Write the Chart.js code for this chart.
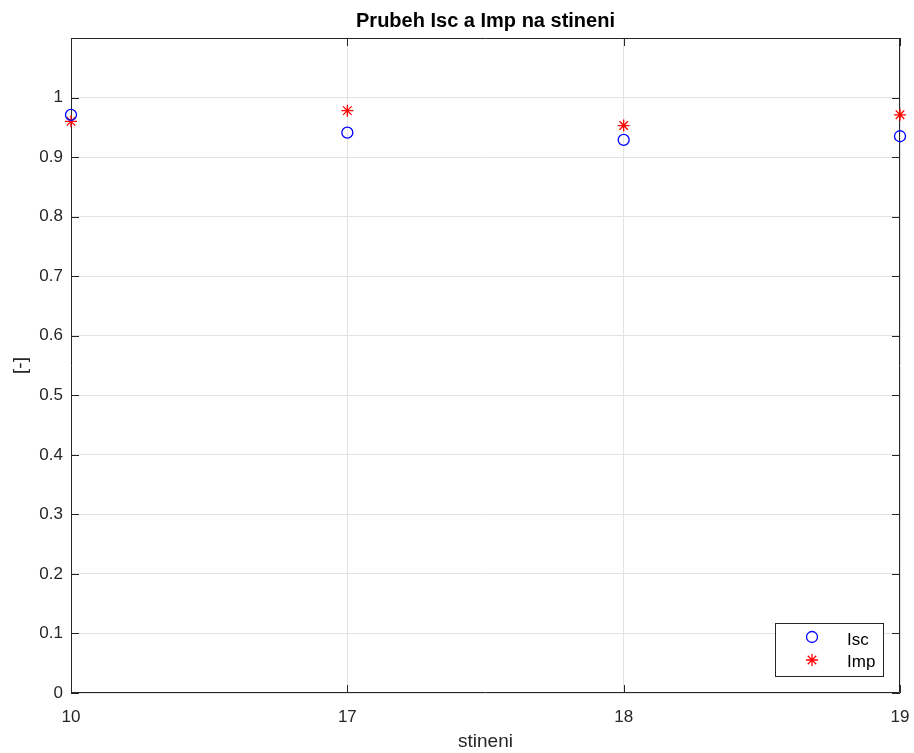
<!DOCTYPE html>
<html>
<head>
<meta charset="utf-8">
<script src="https://cdn.jsdelivr.net/npm/chart.js@4.4.0/dist/chart.umd.min.js"></script>
<style>
  body { margin: 0; background: #fff; }
  canvas { display: block; }
</style>
</head>
<body>
<canvas id="chart" width="914" height="753"></canvas>
<script>
// data
const stineni = ["10", "17", "18", "19"];
const isc = [0.971, 0.941, 0.929, 0.935];
const imp = [0.960, 0.978, 0.953, 0.971];
const seriesNames = ["Isc", "Imp"];

const axisColor = "#262626";
const gridColor = "#e3e3e3";
const fontFamily = "'Liberation Sans', Arial, Helvetica, sans-serif";

// box round the axes, inward tick marks, legend
const matlabBox = {
  id: "matlabBox",
  beforeDatasetsDraw(chart) {
    const { ctx, chartArea: a, scales: { x, y } } = chart;
    ctx.save();
    ctx.strokeStyle = axisColor;
    ctx.lineWidth = 1;
    ctx.beginPath();
    ctx.rect(a.left + 0.5, a.top + 0.5, a.right - a.left - 1, a.bottom - a.top - 1);
    y.ticks.forEach(t => {
      const py = Math.round(y.getPixelForValue(t.value)) + 0.5;
      ctx.moveTo(a.left, py); ctx.lineTo(a.left + 8, py);
      ctx.moveTo(a.right, py); ctx.lineTo(a.right - 8, py);
    });
    x.ticks.forEach(t => {
      const px = Math.round(x.getPixelForValue(t.value)) + 0.5;
      ctx.moveTo(px, a.bottom); ctx.lineTo(px, a.bottom - 8);
      ctx.moveTo(px, a.top); ctx.lineTo(px, a.top + 8);
    });
    ctx.stroke();
    ctx.restore();
  },
  afterDraw(chart) {
    const { ctx } = chart;
    ctx.save();
    ctx.fillStyle = "#fff";
    ctx.strokeStyle = axisColor;
    ctx.lineWidth = 1;
    ctx.fillRect(775.5, 623.5, 108, 53);
    ctx.strokeRect(775.5, 623.5, 108, 53);

    // circle marker
    ctx.strokeStyle = "#0000ff";
    ctx.lineWidth = 1.3;
    ctx.beginPath();
    ctx.arc(812, 637, 5.5, 0, Math.PI * 2);
    ctx.stroke();

    // star marker
    ctx.strokeStyle = "#ff0000";
    ctx.beginPath();
    const cx = 812, cy = 660, r = 6;
    for (let k = 0; k < 4; k++) {
      const ang = k * Math.PI / 4;
      ctx.moveTo(cx - r * Math.cos(ang), cy - r * Math.sin(ang));
      ctx.lineTo(cx + r * Math.cos(ang), cy + r * Math.sin(ang));
    }
    ctx.stroke();

    ctx.fillStyle = "#000";
    ctx.font = "17px " + fontFamily;
    ctx.textBaseline = "alphabetic";
    ctx.textAlign = "left";
    ctx.fillText(seriesNames[0], 847, 645);
    ctx.fillText(seriesNames[1], 847, 667);
    ctx.restore();
  }
};

new Chart(document.getElementById("chart").getContext("2d"), {
  type: "scatter",
  data: {
    datasets: [
      {
        label: seriesNames[0],
        data: isc.map((v, i) => ({ x: i, y: v })),
        pointStyle: "circle",
        pointRadius: 5.5,
        pointBorderWidth: 1.3,
        borderColor: "#0000ff",
        backgroundColor: "rgba(0,0,0,0)",
        clip: false
      },
      {
        label: seriesNames[1],
        data: imp.map((v, i) => ({ x: i, y: v })),
        pointStyle: "star",
        pointRadius: 6,
        pointBorderWidth: 1.3,
        borderColor: "#ff0000",
        backgroundColor: "#ff0000",
        clip: false
      }
    ]
  },
  options: {
    responsive: false,
    animation: false,
    layout: { padding: { left: 0, right: 14, top: 38, bottom: 0 } },
    plugins: {
      legend: { display: false },
      tooltip: { enabled: false },
      title: { display: false }
    },
    scales: {
      x: {
        type: "linear",
        min: 0,
        max: stineni.length - 1,
        afterFit(scale) {
          scale.height = 60;
          scale.paddingLeft = 0;
          scale.paddingRight = 0;
        },
        grid: { color: gridColor, drawTicks: false },
        border: { display: false },
        ticks: {
          stepSize: 1,
          padding: 14,
          color: axisColor,
          font: { family: fontFamily, size: 17 },
          callback: v => stineni[v]
        },
        title: {
          display: true,
          text: "stineni",
          color: axisColor,
          font: { family: fontFamily, size: 19 },
          padding: { top: 0, bottom: 0 }
        }
      },
      y: {
        min: 0,
        max: 1.1,
        afterFit(scale) {
          scale.width = 71;
          scale.paddingTop = 0;
          scale.paddingBottom = 0;
        },
        grid: { color: gridColor, drawTicks: false },
        border: { display: false },
        ticks: {
          stepSize: 0.1,
          padding: 8,
          color: axisColor,
          font: { family: fontFamily, size: 17 },
          callback: v => (v > 1.05 ? "" : String(Math.round(v * 10) / 10))
        },
        title: {
          display: true,
          text: "[-]",
          color: axisColor,
          font: { family: fontFamily, size: 19 },
          padding: { top: 9, bottom: 0 }
        }
      }
    }
  },
  plugins: [matlabBox, {
    id: "topTitle",
    afterDraw(chart) {
      const { ctx, chartArea: a } = chart;
      ctx.save();
      ctx.fillStyle = "#000";
      ctx.font = "bold 20px " + fontFamily;
      ctx.textAlign = "center";
      ctx.textBaseline = "alphabetic";
      ctx.fillText("Prubeh Isc a Imp na stineni", (a.left + a.right) / 2, 27);
      ctx.restore();
    }
  }]
});
</script>
</body>
</html>
